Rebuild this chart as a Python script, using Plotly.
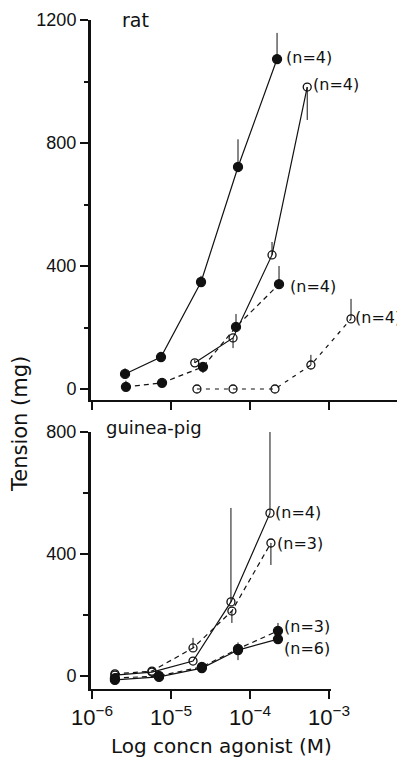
import math
import plotly.graph_objects as go

PAGE_W, PAGE_H = 405, 758
OFF = 8                      # default body margin of the html page
W, H = PAGE_W - OFF, PAGE_H - OFF

# ---------------- data ----------------
# rat panel
rat_A_conc = [2.62e-6, 7.47e-6, 2.40e-5, 7.05e-5, 2.20e-4]
rat_A_val = [49, 104, 348, 722, 1073]
rat_A_up = [18, 13, 20, 90, 85]
rat_A_dn = [0, 0, 0, 0, 0]

rat_B_conc = [2.0e-5, 6.1e-5, 1.9e-4, 5.3e-4]
rat_B_val = [85, 166, 436, 982]
rat_B_up = [10, 0, 42, 0]
rat_B_dn = [0, 33, 0, 107]

rat_C_conc = [2.69e-6, 7.7e-6, 2.54e-5, 6.65e-5, 2.33e-4]
rat_C_val = [7, 20, 72, 202, 341]
rat_C_up = [20, 13, 0, 42, 59]
rat_C_dn = [0, 0, 20, 0, 0]

rat_D_conc = [2.13e-5, 6.1e-5, 2.07e-4, 5.9e-4, 1.9e-3]
rat_D_val = [0, 0, 0, 78, 228]
rat_D_up = [0, 0, 0, 33, 65]
rat_D_dn = [0, 0, 0, 0, 0]

# guinea-pig panel
gp_A_conc = [1.95e-6, 5.74e-6, 1.90e-5, 5.74e-5, 1.79e-4]
gp_A_val = [3, 13, 49, 243, 534]
gp_A_up = [0, 0, 0, 308, 266]
gp_A_dn = [0, 0, 0, 0, 0]

gp_B_conc = [1.95e-6, 5.74e-6, 1.90e-5, 5.9e-5, 1.84e-4]
gp_B_val = [7, 16, 92, 213, 436]
gp_B_up = [0, 0, 33, 0, 0]
gp_B_dn = [0, 0, 0, 39, 72]

gp_C_conc = [1.95e-6, 7.05e-6, 2.46e-5, 7.05e-5, 2.26e-4]
gp_C_val = [-13, -3, 26, 85, 121]
gp_C_up = [0, 0, 0, 25, 0]
gp_C_dn = [0, 0, 0, 33, 0]

gp_D_conc = [1.95e-6, 7.05e-6, 2.46e-5, 7.05e-5, 2.26e-4]
gp_D_val = [-7, 0, 30, 89, 148]
gp_D_up = [0, 0, 0, 0, 26]
gp_D_dn = [0, 0, 0, 0, 0]

x_tickvals = [1e-6, 1e-5, 1e-4, 1e-3]
x_ticktext = ["10<sup>−6</sup>", "10<sup>−5</sup>", "10<sup>−4</sup>", "10<sup>−3</sup>"]
rat_yticks = [0, 400, 800, 1200]
gp_yticks = [0, 400, 800]

# ---------------- layout helpers (page pixels -> paper fractions) ----------------
def px_x(p):
    return (p - OFF) / W

def px_y(p):
    return 1 - (p - OFF) / H

FONT_TXT = "DejaVu Sans"
FONT_TICK = "Liberation Sans, Arial"
BLACK = "#111111"

fig = go.Figure()

def add_series(conc, val, up, dn, filled, dash, xa, ya):
    fig.add_trace(go.Scatter(
        x=conc, y=val, mode="lines+markers", xaxis=xa, yaxis=ya,
        line=dict(color=BLACK, width=1.2, dash=dash),
        marker=dict(symbol="circle" if filled else "circle-open",
                    size=9 if filled else 8,
                    color=BLACK, line=dict(color=BLACK, width=1.3)),
        error_y=dict(type="data", symmetric=False, array=up, arrayminus=dn,
                     color=BLACK, thickness=1, width=0),
        showlegend=False, hoverinfo="skip", cliponaxis=False,
    ))

SOLID = "solid"
DASH = "5px,4px"
DOT = "4px,5px"

add_series(rat_A_conc, rat_A_val, rat_A_up, rat_A_dn, True, SOLID, "x", "y")
add_series(rat_B_conc, rat_B_val, rat_B_up, rat_B_dn, False, SOLID, "x", "y")
add_series(rat_C_conc, rat_C_val, rat_C_up, rat_C_dn, True, DASH, "x", "y")
add_series(rat_D_conc, rat_D_val, rat_D_up, rat_D_dn, False, DOT, "x", "y")

add_series(gp_A_conc, gp_A_val, gp_A_up, gp_A_dn, False, SOLID, "x2", "y2")
add_series(gp_B_conc, gp_B_val, gp_B_up, gp_B_dn, False, DASH, "x2", "y2")
add_series(gp_C_conc, gp_C_val, gp_C_up, gp_C_dn, True, SOLID, "x2", "y2")
add_series(gp_D_conc, gp_D_val, gp_D_up, gp_D_dn, True, DASH, "x2", "y2")

# n labels anchored at the last point of each series
def n_label(conc, val, text, xa, ya, dx, dy):
    fig.add_annotation(x=math.log10(conc[-1]), y=val[-1], xref=xa, yref=ya, text=text,
                       showarrow=False, xanchor="left", yanchor="middle",
                       xshift=dx, yshift=dy,
                       font=dict(family=FONT_TXT, size=16, color=BLACK))

n_label(rat_A_conc, rat_A_val, "(n=4)", "x", "y", 7, 2)
n_label(rat_B_conc, rat_B_val, "(n=4)", "x", "y", 4, 3)
n_label(rat_C_conc, rat_C_val, "(n=4)", "x", "y", 9, -2)
n_label(rat_D_conc, rat_D_val, "(n=4)", "x", "y", 2, 1)
n_label(gp_A_conc, gp_A_val, "(n=4)", "x2", "y2", 3, 1)
n_label(gp_B_conc, gp_B_val, "(n=3)", "x2", "y2", 4, 0)
n_label(gp_D_conc, gp_D_val, "(n=3)", "x2", "y2", 4, 4)
n_label(gp_C_conc, gp_C_val, "(n=6)", "x2", "y2", 4, -9)

# panel titles
fig.add_annotation(x=px_x(120), y=px_y(20), xref="paper", yref="paper", text="rat",
                   showarrow=False, xanchor="left", yanchor="middle",
                   font=dict(family=FONT_TXT, size=19, color=BLACK))
fig.add_annotation(x=px_x(104), y=px_y(427), xref="paper", yref="paper", text="guinea-pig",
                   showarrow=False, xanchor="left", yanchor="middle",
                   font=dict(family=FONT_TXT, size=18, color=BLACK))
# axis titles
fig.add_annotation(x=px_x(20), y=px_y(424), xref="paper", yref="paper", text="Tension (mg)",
                   showarrow=False, textangle=-90, xanchor="center", yanchor="middle",
                   font=dict(family=FONT_TXT, size=21, color=BLACK))
fig.add_annotation(x=px_x(221), y=px_y(746), xref="paper", yref="paper",
                   text="Log concn agonist (M)",
                   showarrow=False, xanchor="center", yanchor="middle",
                   font=dict(family=FONT_TXT, size=20, color=BLACK))

# axes geometry (pixel-derived)
x0_px = 90
dec_px = 79.0
x_at_m6 = 92
def log_at(p):
    return -6 + (p - x_at_m6) / dec_px

top_y0, top_y1 = 20, 400      # 1200 at 20 px, x-axis at 400 px
top_zero_px, top_scale = 389, 369 / 1200
bot_y0, bot_y1 = 432, 689     # 800 at 432 px, x-axis at 689 px
bot_zero_px, bot_scale = 676, 244 / 800

axis_common = dict(showline=True, linecolor=BLACK, linewidth=2, showgrid=False,
                   zeroline=False, ticks="outside", tickcolor=BLACK, tickwidth=2,
                   automargin=False)

# explicit left spines for both panels (drawn along each y-axis domain)
for xd, yd in (("x domain", "y domain"), ("x2 domain", "y2 domain")):
    fig.add_shape(type="line", xref=xd, yref=yd, x0=0, x1=0, y0=0, y1=1,
                  line=dict(color=BLACK, width=2), layer="above")

fig.update_layout(
    width=W, height=H, margin=dict(l=0, r=0, t=0, b=0, pad=0),
    paper_bgcolor="white", plot_bgcolor="white",
    xaxis=dict(**axis_common, type="log", domain=[px_x(x0_px), 1.0],
               range=[log_at(x0_px), log_at(PAGE_W)], anchor="y",
               tickvals=x_tickvals, showticklabels=False, ticklen=8),
    yaxis=dict(**axis_common, domain=[px_y(top_y1), px_y(top_y0)],
               range=[-(top_y1 - top_zero_px) / top_scale, 1200], anchor="x",
               tickvals=rat_yticks, ticklen=8,
               tickfont=dict(family=FONT_TICK, size=18, color=BLACK),
               minor=dict(tickvals=[200, 600, 1000], ticks="outside", ticklen=4,
                          tickcolor=BLACK, tickwidth=2)),
    xaxis2=dict(**axis_common, type="log", domain=[px_x(x0_px), px_x(331)],
                range=[log_at(x0_px), log_at(331)], anchor="y2",
                tickvals=x_tickvals, ticktext=x_ticktext, ticklen=8,
                tickfont=dict(family=FONT_TICK, size=22, color=BLACK)),
    yaxis2=dict(**axis_common, domain=[px_y(bot_y1), px_y(bot_y0)],
                range=[-(bot_y1 - bot_zero_px) / bot_scale, 800], anchor="x2",
                tickvals=gp_yticks, ticklen=8,
                tickfont=dict(family=FONT_TICK, size=18, color=BLACK),
                minor=dict(tickvals=[200, 600], ticks="outside", ticklen=5,
                           tickcolor=BLACK, tickwidth=2)),
)

fig.write_html("out.html", config={"displayModeBar": False})
